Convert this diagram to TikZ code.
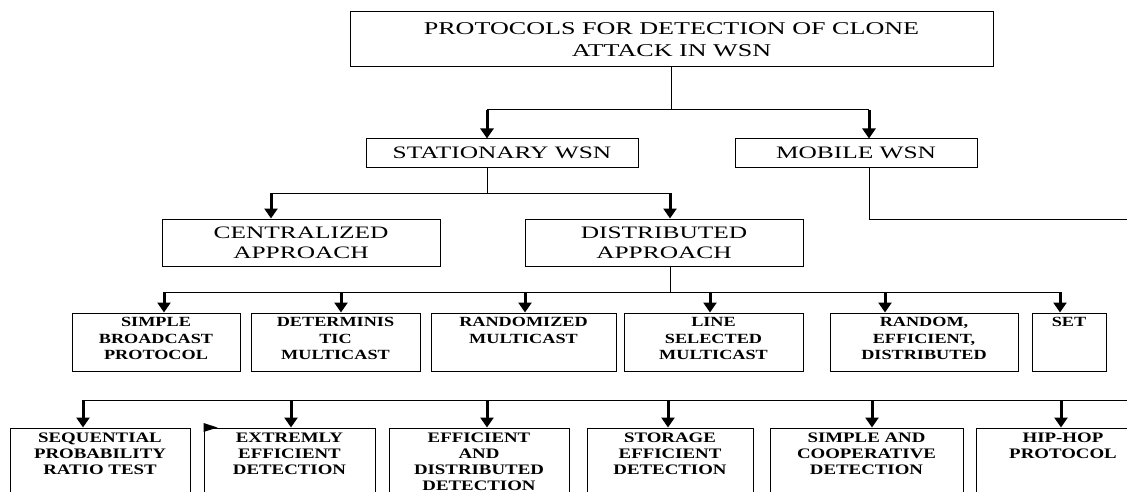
\documentclass[tikz,border=0pt]{standalone}
\usepackage{fontspec}
\setmainfont{Liberation Serif}
\newfontfamily\fa[FakeStretch=1.45]{Liberation Serif}
\newfontfamily\fb[FakeStretch=1.3]{Liberation Serif}
\usetikzlibrary{arrows.meta,fit}
\tikzset{
 box/.style={draw, line width=1pt, inner sep=0pt},
 bus/.style={line width=1pt},
 arr/.style={line width=3pt, -{Triangle[width=13pt,length=10pt]}},
 bigtxt/.style={font=\fa\fontsize{18}{22}\selectfont, align=center, inner sep=0pt},
 midtxt/.style={font=\fa\fontsize{17.5}{20}\selectfont, align=center, inner sep=0pt},
 rowtxt/.style={font=\fb\bfseries\fontsize{14}{16.5}\selectfont, align=center, inner sep=0pt, anchor=north, yshift=-5pt},
 lowtxt/.style={font=\fb\bfseries\fontsize{14.5}{16}\selectfont, align=center, inner sep=0pt, anchor=north, yshift=-5pt},
}
\begin{document}
\begin{tikzpicture}[x=1pt,y=-1pt]
\useasboundingbox (0,0) rectangle (1127,492);
\clip (0,0) rectangle (1127,492);

% level 0
\node[box, fit={(350,12)(993,67)}] (top) {};
\node[bigtxt] (toptxt) at (top.center) {PROTOCOLS FOR DETECTION OF CLONE\\ATTACK IN WSN};

% level 1
\node[box, fit={(366,139)(638,167)}] (stat) {};
\node[midtxt] (stattxt) at (stat.center) {STATIONARY WSN};
\node[box, fit={(735,139)(977,167)}] (mob) {};
\node[midtxt] (mobtxt) at (mob.center) {MOBILE WSN};

% level 2
\node[box, fit={(162,219)(440,266)}] (cent) {};
\node[midtxt] (centtxt) at (cent.center) {CENTRALIZED\\APPROACH};
\node[box, fit={(525,219)(803,266)}] (dist) {};
\node[midtxt] (disttxt) at (dist.center) {DISTRIBUTED\\APPROACH};

% level 3
\node[box, fit={(72,313)(240,371)}] (c1) {};
\node[rowtxt] (c1t) at (c1.north) {SIMPLE\\BROADCAST\\PROTOCOL};
\node[box, fit={(251,313)(420,371)}] (c2) {};
\node[rowtxt] (c2t) at (c2.north) {DETERMINIS\\TIC\\MULTICAST};
\node[box, fit={(431,313)(616,371)}] (c3) {};
\node[rowtxt] (c3t) at (c3.north) {RANDOMIZED\\MULTICAST};
\node[box, fit={(624,313)(803,371)}] (c4) {};
\node[rowtxt] (c4t) at (c4.north) {LINE\\SELECTED\\MULTICAST};
\node[box, fit={(830,313)(1018,371)}] (c5) {};
\node[rowtxt] (c5t) at (c5.north) {RANDOM,\\EFFICIENT,\\DISTRIBUTED};
\node[box, fit={(1032,313)(1106,371)}] (c6) {};
\node[rowtxt] (c6t) at (c6.north) {SET};

% level 4
\node[box, fit={(10,428)(190,520)}] (d1) {};
\node[lowtxt] (d1t) at (d1.north) {SEQUENTIAL\\PROBABILITY\\RATIO TEST};
\node[box, fit={(204,428)(375,520)}] (d2) {};
\node[lowtxt] (d2t) at (d2.north) {EXTREMLY\\EFFICIENT\\DETECTION};
\node[box, fit={(389,428)(569,520)}] (d3) {};
\node[lowtxt] (d3t) at (d3.north) {EFFICIENT\\AND\\DISTRIBUTED\\DETECTION};
\node[box, fit={(587,428)(753,520)}] (d4) {};
\node[lowtxt] (d4t) at (d4.north) {STORAGE\\EFFICIENT\\DETECTION};
\node[box, fit={(770,428)(963,520)}] (d5) {};
\node[lowtxt] (d5t) at (d5.north) {SIMPLE AND\\COOPERATIVE\\DETECTION};
\node[box, fit={(976,428)(1150,520)}] (d6) {};
\node[lowtxt] (d6t) at (d6.north) {HIP-HOP\\PROTOCOL};

% connectors level 0 -> 1
\coordinate (j0) at (top.south |- 0,110);
\draw[bus] (top.south) -- (j0);
\draw[bus] (487,110) -- (869,110);
\draw[arr] (487,110) -- (487,0 |- stat.north);
\draw[arr] (869,110) -- (869,0 |- mob.north);

% mobile line
\coordinate (mobend) at (1135,219);
\draw[bus] (869,0 |- mob.south) -- (869,219) -- (mobend);

% level 1 -> 2
\draw[bus] (487,0 |- stat.south) -- (487,193);
\draw[bus] (271,193) -- (670,193);
\draw[arr] (271,193) -- (271,0 |- cent.north);
\draw[arr] (670,193) -- (670,0 |- dist.north);

% level 2 -> 3
\draw[bus] (670,0 |- dist.south) -- (670,292);
\draw[bus] (164,292) -- (1060,292);
\draw[arr] (164,292) -- (164,0 |- c1.north);
\draw[arr] (341,292) -- (341,0 |- c2.north);
\draw[arr] (525,292) -- (525,0 |- c3.north);
\draw[arr] (710,292) -- (710,0 |- c4.north);
\draw[arr] (885,292) -- (885,0 |- c5.north);
\draw[arr] (1060,292) -- (1060,0 |- c6.north);

% bus to level 4
\coordinate (lowend) at (1135,400);
\draw[bus] (83,400) -- (lowend);
\draw[arr] (83,400) -- (83,0 |- d1.north);
\draw[arr] (291,400) -- (291,0 |- d2.north);
\draw[arr] (487,400) -- (487,0 |- d3.north);
\draw[arr] (668,400) -- (668,0 |- d4.north);
\draw[arr] (872,400) -- (872,0 |- d5.north);
\draw[arr] (1061,400) -- (1061,0 |- d6.north);

% stray arrowhead at corner of d2
\fill (d2.north west) ++(0,-4.5) -- ++(14,4.5) -- ++(-14,4.5) -- cycle;
\end{tikzpicture}
\end{document}
